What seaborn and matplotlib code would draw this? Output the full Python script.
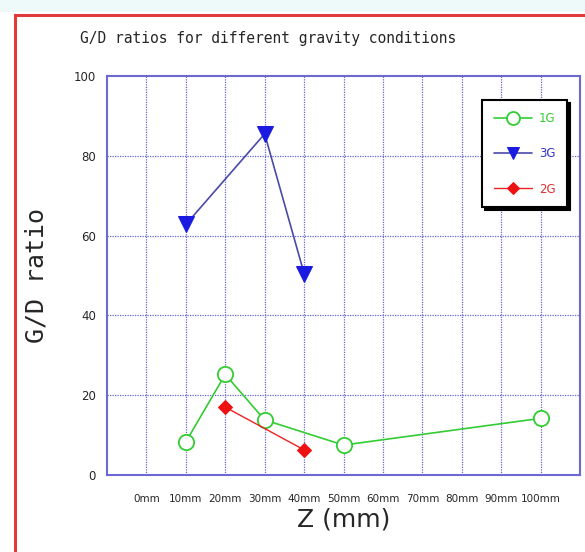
import matplotlib
matplotlib.use("Agg")
import matplotlib.pyplot as plt
import seaborn as sns
import pandas as pd
from matplotlib.patches import Rectangle

categories = ["0mm", "10mm", "20mm", "30mm", "40mm", "50mm", "60mm", "70mm", "80mm", "90mm", "100mm"]

g1_z = ["10mm", "20mm", "30mm", "50mm", "100mm"]
g1_vals = [8.3, 25.2, 13.8, 7.5, 14.2]

g3_z = ["10mm", "30mm", "40mm"]
g3_vals = [62.8, 85.5, 50.5]

g2_z = ["20mm", "40mm"]
g2_vals = [17.0, 6.3]

sns.set_style("white")
mono = ["DejaVu Sans Mono"]

fig = plt.figure(figsize=(5.85, 5.52), dpi=100)
fig.patch.set_facecolor("white")
# light background strip at top and red frame
fig.patches.append(Rectangle((0, 1 - 12 / 552), 1, 12 / 552, transform=fig.transFigure,
                             facecolor="#eefafa", edgecolor="none", zorder=0))
fig.patches.append(Rectangle((15 / 585, -0.1), 1.2, 1 - 15 / 552 + 0.1, transform=fig.transFigure,
                             facecolor="none", edgecolor="#e03a3a", linewidth=2.2, zorder=1))

ax = fig.add_axes([107 / 585, 1 - 475 / 552, (580 - 107) / 585, (475 - 76) / 552])
idx = {c: i for i, c in enumerate(categories)}

df1 = pd.DataFrame({"x": [idx[z] for z in g1_z], "y": g1_vals})
df3 = pd.DataFrame({"x": [idx[z] for z in g3_z], "y": g3_vals})
df2 = pd.DataFrame({"x": [idx[z] for z in g2_z], "y": g2_vals})

sns.lineplot(data=df1, x="x", y="y", ax=ax, color="#33cc33", lw=1.2, marker="o",
             markersize=11, markerfacecolor="white", markeredgecolor="#33cc33",
             markeredgewidth=1.3, label="1G", zorder=4)
sns.lineplot(data=df3, x="x", y="y", ax=ax, color="#4a4aa8", lw=1.2, marker="v",
             markersize=11, markerfacecolor="#1a1ae0", markeredgecolor="#1a1ae0",
             label="3G", zorder=4)
sns.lineplot(data=df2, x="x", y="y", ax=ax, color="#ee2222", lw=1.0, marker="D",
             markersize=7.5, markerfacecolor="#ee1111", markeredgecolor="#ee1111",
             label="2G", zorder=4)

ax.set_xlim(-1, 11)
ax.set_ylim(0, 100)
ax.set_xticks(range(len(categories)))
ax.set_xticklabels(categories, fontsize=7.5, family="DejaVu Sans Condensed")
ax.set_yticks([0, 20, 40, 60, 80, 100])
ax.set_yticklabels(["0", "20", "40", "60", "80", "100"], fontsize=8.5, family="DejaVu Sans Condensed")
ax.tick_params(axis="x", which="both", length=0, pad=14)
ax.tick_params(axis="y", length=0, pad=8)
for xv in range(0, 11):
    ax.axvline(xv, color="#6666cc", lw=0.9, ls=(0, (1, 1)), zorder=1)
for yv in [20, 40, 60, 80]:
    ax.axhline(yv, color="#6666cc", lw=0.9, ls=(0, (1, 1)), zorder=1)
for s in ax.spines.values():
    s.set_color("#6a6ad0")
    s.set_linewidth(1.5)

ax.set_xlabel("Z (mm)", fontsize=18, family="DejaVu Sans Condensed", labelpad=2)
ax.set_ylabel("G/D ratio", fontsize=18, family=mono, labelpad=18)
fig.text(80 / 585, 1 - 38 / 552, "G/D ratios for different gravity conditions",
         fontsize=10.5, family=mono, va="center", ha="left")

leg = ax.legend(loc="upper right", bbox_to_anchor=(0.986, 0.955), fontsize=8.5,
                frameon=True, fancybox=False, shadow={"color": "black", "alpha": 1.0},
                borderpad=1.0, labelspacing=1.9, handlelength=3.2, handletextpad=0.6,
                markerscale=0.85)
leg.get_frame().set_edgecolor("black")
leg.get_frame().set_linewidth(1.5)
for txt, col in zip(leg.get_texts(), ["#33cc33", "#3333cc", "#dd3333"]):
    txt.set_color(col)

fig.savefig("out.png", dpi=100)
